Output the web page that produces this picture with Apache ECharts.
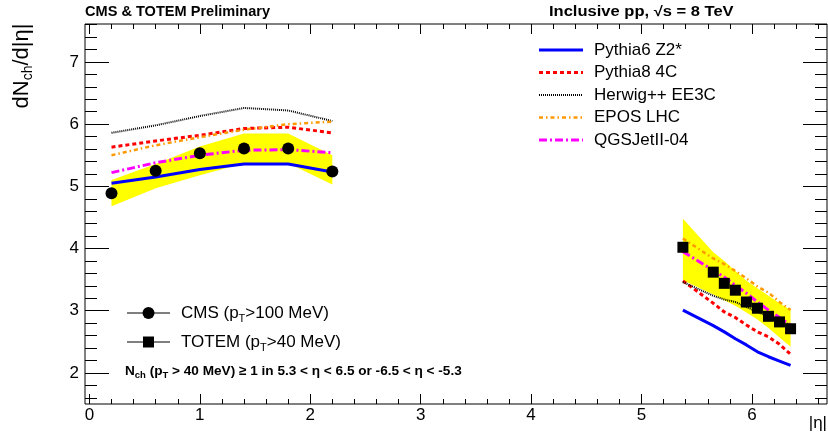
<!DOCTYPE html>
<html>
<head>
<meta charset="utf-8">
<script src="https://cdn.jsdelivr.net/npm/echarts@6/dist/echarts.min.js"></script>
<style>
  html, body { margin: 0; padding: 0; background: #ffffff; }
  #chart { width: 828px; height: 432px; }
</style>
</head>
<body>
<div id="chart"></div>
<script>
// ---- pseudorapidity bins ----
const etaCMS = [0.2, 0.6, 1.0, 1.4, 1.8, 2.2];
const etaTOTEM = [5.375, 5.65, 5.75, 5.85, 5.95, 6.05, 6.15, 6.25, 6.35];

// ---- measured dNch/d|eta| and systematic bands ----
const cmsVal = [4.89, 5.25, 5.53, 5.61, 5.61, 5.24];
const cmsBandLo = [4.68, 4.97, 5.18, 5.37, 5.37, 5.03];
const cmsBandHi = [5.10, 5.36, 5.64, 5.85, 5.85, 5.50];

const totemVal = [4.02, 3.62, 3.44, 3.33, 3.14, 3.04, 2.91, 2.82, 2.71];
const totemBandLo = [3.49, 3.26, 3.17, 3.08, 2.97, 2.86, 2.72, 2.57, 2.42];
const totemBandHi = [4.48, 3.94, 3.80, 3.64, 3.48, 3.36, 3.24, 3.12, 3.01];

// ---- generator predictions ----
const pythia6CMS = [5.05, 5.15, 5.27, 5.36, 5.36, 5.23];
const pythia6TOTEM = [3.01, 2.76, 2.66, 2.55, 2.45, 2.34, 2.26, 2.19, 2.12];
const pythia8CMS = [5.63, 5.73, 5.82, 5.93, 5.95, 5.86];
const pythia8TOTEM = [3.48, 3.12, 2.98, 2.89, 2.77, 2.66, 2.58, 2.46, 2.30];
const herwigCMS = [5.86, 5.98, 6.13, 6.26, 6.22, 6.05];
const herwigTOTEM = [3.46, 3.24, 3.18, 3.14, 3.06, 2.98, 2.91, 2.84, 2.77];
const eposCMS = [5.50, 5.66, 5.79, 5.91, 6.00, 6.04];
const eposTOTEM = [4.16, 3.84, 3.75, 3.64, 3.52, 3.39, 3.29, 3.14, 3.01];
const qgsjetCMS = [5.22, 5.38, 5.50, 5.58, 5.59, 5.54];
const qgsjetTOTEM = [3.95, 3.65, 3.54, 3.41, 3.28, 3.14, 3.01, 2.89, 2.77];

// ---- axis ticks ----
const xTickLabels = [0, 1, 2, 3, 4, 5, 6];
const yTickLabels = [2, 3, 4, 5, 6, 7];
const X_MIN = -0.04, X_MAX = 6.68;
const Y_MIN = 1.5, Y_MAX = 7.61;

function minorTicks(lo, hi, step, majors) {
  const out = [];
  for (let k = Math.ceil(lo / step - 1e-9); k * step <= hi + 1e-9; k++) {
    const v = Math.round(k * step * 100) / 100;
    if (majors.indexOf(v) < 0) out.push(v);
  }
  return out;
}
const xMinor = minorTicks(X_MIN, X_MAX, 0.2, xTickLabels);
const yMinor = minorTicks(Y_MIN, Y_MAX, 0.2, yTickLabels);

const FONT = "'Liberation Sans', Arial, Helvetica, sans-serif";

const models = [
  { name: 'Pythia6 Z2*',   cms: pythia6CMS, totem: pythia6TOTEM, color: '#0000ff', width: 3,   dash: 'solid' },
  { name: 'Pythia8 4C',    cms: pythia8CMS, totem: pythia8TOTEM, color: '#ff0000', width: 3,   dash: [4, 3] },
  { name: 'Herwig++ EE3C', cms: herwigCMS,  totem: herwigTOTEM,  color: '#000000', width: 2,   dash: [1, 1] },
  { name: 'EPOS LHC',      cms: eposCMS,    totem: eposTOTEM,    color: '#ff9900', width: 2.5, dash: [4, 3, 1.5, 3] },
  { name: 'QGSJetII-04',   cms: qgsjetCMS,  totem: qgsjetTOTEM,  color: '#ff00ff', width: 3,   dash: [8, 3, 2, 3] }
];

function pairs(xs, ys) { return xs.map((x, i) => [x, ys[i]]); }

// yellow systematic band as one closed polygon
function bandSeries(xs, lo, hi) {
  return {
    type: 'custom',
    silent: true,
    z: 1,
    data: xs.map((x, i) => [x, lo[i], hi[i]]),
    encode: { x: 0, y: [1, 2] },
    renderItem: function (params, api) {
      if (params.dataIndex !== 0) return null;
      const pts = [];
      for (let i = 0; i < xs.length; i++) pts.push(api.coord([xs[i], hi[i]]));
      for (let i = xs.length - 1; i >= 0; i--) pts.push(api.coord([xs[i], lo[i]]));
      return { type: 'polygon', shape: { points: pts }, style: { fill: '#ffff00', stroke: null } };
    }
  };
}

const series = [bandSeries(etaCMS, cmsBandLo, cmsBandHi), bandSeries(etaTOTEM, totemBandLo, totemBandHi)];
models.forEach(m => {
  [[etaCMS, m.cms], [etaTOTEM, m.totem]].forEach(([xs, ys]) => {
    series.push({
      type: 'line', name: m.name, silent: true, z: 3, symbol: 'none',
      data: pairs(xs, ys),
      lineStyle: { color: m.color, width: m.width, type: m.dash, cap: 'butt' }
    });
  });
});
series.push({
  type: 'scatter', name: 'CMS', z: 5, silent: true, symbol: 'circle', symbolSize: 12,
  itemStyle: { color: '#000', opacity: 1 }, data: pairs(etaCMS, cmsVal)
});
series.push({
  type: 'scatter', name: 'TOTEM', z: 5, silent: true, symbol: 'rect', symbolSize: 11,
  itemStyle: { color: '#000', opacity: 1 }, data: pairs(etaTOTEM, totemVal)
});

function xAxis(pos, ticks, len, labels) {
  return {
    type: 'value', min: X_MIN, max: X_MAX, position: pos,
    axisLine: { show: false, onZero: false }, splitLine: { show: false },
    axisTick: { show: true, inside: true, length: len, customValues: ticks, lineStyle: { color: '#000', width: 1 } },
    axisLabel: labels ? { show: true, customValues: ticks, margin: 3, color: '#000', fontSize: 17, fontFamily: FONT } : { show: false }
  };
}
function yAxis(pos, ticks, len, labels) {
  return {
    type: 'value', min: Y_MIN, max: Y_MAX, position: pos,
    axisLine: { show: false, onZero: false }, splitLine: { show: false },
    axisTick: { show: true, inside: true, length: len, customValues: ticks, lineStyle: { color: '#000', width: 1 } },
    axisLabel: labels ? { show: true, customValues: ticks, margin: 6, color: '#000', fontSize: 17, fontFamily: FONT } : { show: false }
  };
}

// legend drawn as plain graphics so each line pattern matches its curve
const graphics = [];
models.forEach((m, i) => {
  const y = 50 + i * 22.5;
  graphics.push({ type: 'line', silent: true, shape: { x1: 539, y1: y, x2: 583, y2: y },
    style: { stroke: m.color, lineWidth: m.width, lineDash: m.dash === 'solid' ? null : m.dash } });
  graphics.push({ type: 'text', silent: true, x: 594, y: y,
    style: { text: m.name, font: '17px ' + FONT, fill: '#000', align: 'left', verticalAlign: 'middle' } });
});

const subRich = {
  n: { fontSize: 17, fontFamily: FONT, color: '#000' },
  s: { fontSize: 11, fontFamily: FONT, color: '#000', padding: [12, 0, 0, 0] }
};
[['{n|CMS (p}{s|T}{n|>100 MeV)}', 313, 'circle'], ['{n|TOTEM (p}{s|T}{n|>40 MeV)}', 342, 'rect']].forEach(([txt, y, sym]) => {
  graphics.push({ type: 'line', silent: true, shape: { x1: 127, y1: y, x2: 170, y2: y },
    style: { stroke: '#000', lineWidth: 1 } });
  if (sym === 'circle') {
    graphics.push({ type: 'circle', silent: true, shape: { cx: 148.5, cy: y, r: 6 }, style: { fill: '#000' } });
  } else {
    graphics.push({ type: 'rect', silent: true, shape: { x: 143, y: y - 5.5, width: 11, height: 11 }, style: { fill: '#000' } });
  }
  graphics.push({ type: 'text', silent: true, x: 181, y: y,
    style: { text: txt, rich: subRich, align: 'left', verticalAlign: 'middle' } });
});

const boldRich = {
  b: { fontSize: 13.6, fontWeight: 'bold', fontFamily: FONT, color: '#000' },
  bs: { fontSize: 9.5, fontWeight: 'bold', fontFamily: FONT, color: '#000', padding: [9, 0, 0, 0] }
};
graphics.push({ type: 'text', silent: true, x: 125, y: 371,
  style: { text: '{b|N}{bs|ch}{b| (p}{bs|T}{b| > 40 MeV) \u2265 1 in 5.3 < \u03b7 < 6.5 or -6.5 < \u03b7 < -5.3}',
    rich: boldRich, align: 'left', verticalAlign: 'middle' } });

graphics.push({ type: 'text', silent: true, x: 85, y: 12, scaleX: 1.04,
  style: { text: 'CMS & TOTEM Preliminary', font: 'bold 14px ' + FONT, fill: '#000', align: 'left', verticalAlign: 'middle' } });
graphics.push({ type: 'text', silent: true, x: 549, y: 12, scaleX: 1.18,
  style: { text: 'Inclusive pp, \u221as = 8 TeV', font: 'bold 14px ' + FONT, fill: '#000', align: 'left', verticalAlign: 'middle' } });

// axis titles
graphics.push({ type: 'text', silent: true, x: 22, y: 66, rotation: Math.PI / 2,
  style: { text: '{t|dN}{ts|ch}{t|/d|\u03b7|}',
    rich: { t: { fontSize: 22, fontFamily: FONT, color: '#000' },
            ts: { fontSize: 14, fontFamily: FONT, color: '#000', padding: [12, 0, 0, 0] } },
    align: 'center', verticalAlign: 'middle' } });
graphics.push({ type: 'text', silent: true, x: 827, y: 423,
  style: { text: '|\u03b7|', font: '17px ' + FONT, fill: '#000', align: 'right', verticalAlign: 'middle' } });

const chart = echarts.init(document.getElementById('chart'), null, { renderer: 'canvas' });
chart.setOption({
  animation: false,
  backgroundColor: '#ffffff',
  grid: { left: 85, right: 1, top: 24, bottom: 28, show: true, borderColor: '#000', borderWidth: 1, backgroundColor: 'transparent' },
  xAxis: [
    xAxis('bottom', xTickLabels, 10, true),
    xAxis('bottom', xMinor, 5, false),
    xAxis('top', xTickLabels, 10, false),
    xAxis('top', xMinor, 5, false)
  ],
  yAxis: [
    yAxis('left', yTickLabels, 24, true),
    yAxis('left', yMinor, 12, false),
    yAxis('right', yTickLabels, 24, false),
    yAxis('right', yMinor, 12, false)
  ],
  series: series,
  graphic: graphics
});
</script>
</body>
</html>
